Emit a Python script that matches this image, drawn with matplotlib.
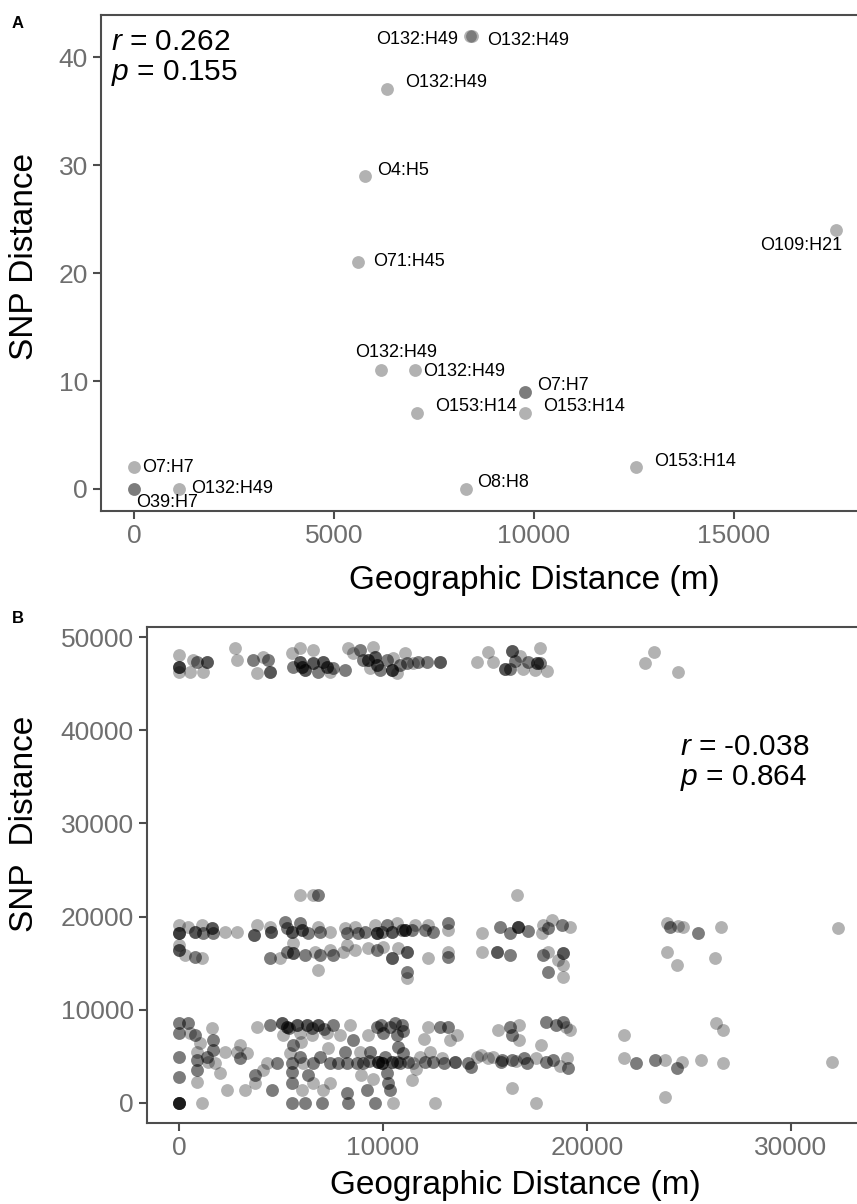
import numpy as np
import matplotlib
matplotlib.use('Agg')
import matplotlib.pyplot as plt

plt.rcParams['font.family'] = ['Liberation Sans', 'DejaVu Sans']
plt.rcParams['mathtext.fontset'] = 'custom'
plt.rcParams['mathtext.it'] = 'Liberation Sans:italic'
plt.rcParams['mathtext.rm'] = 'Liberation Sans'

# ---------------- Panel A data ----------------
a_geo = [8400, 8450, 6325, 5775, 5600, 17550, 6175, 7025, 9775, 9775,
         7075, 9775, 12550, 8300, 0, 0, 0, 1125]
a_snp = [42, 42, 37, 29, 21, 24, 11, 11, 9, 9,
         7, 7, 2, 0, 2, 0, 0, 0]
a_lab = ["O132:H49", "O132:H49", "O132:H49", "O4:H5", "O71:H45", "O109:H21",
         "O132:H49", "O132:H49", "O7:H7", "",
         "O153:H14", "O153:H14", "O153:H14", "O8:H8", "O7:H7", "O39:H7", "", "O132:H49"]
a_r_text = "0.262"
a_p_text = "0.155"

# label placement (pixel offsets, alignment) -- styling only
a_off = [(-12, -4, 'right'), (15, -5, 'left'), (18, 7, 'left'), (12, 5, 'left'),
         (15, 1, 'left'), (6, -16, 'right'), (-26, 18, 'left'), (8, -1, 'left'),
         (12, 6, 'left'), (0, 0, 'left'), (18, 7, 'left'), (18, 7, 'left'),
         (18, 6, 'left'), (11, 6, 'left'), (8, 0, 'left'), (2, -14, 'left'),
         (0, 0, 'left'), (12, 0, 'left')]

# ---------------- Panel B data (geo, snp, number of overlapping points) ----------------
b_top = [
    (0, 48070, 1), (0, 46820, 4), (0, 46280, 1), (540, 46280, 1), (700, 47530, 1), (870, 47350, 2),
    (1190, 46280, 1), (1360, 47350, 3), (2750, 48780, 1), (2830, 47530, 1), (3640, 47530, 2),
    (3810, 46100, 1), (4130, 47890, 1), (4380, 47530, 2), (4460, 46280, 3), (5520, 48250, 1),
    (5600, 46820, 2), (5930, 48780, 1), (5930, 47350, 3), (6010, 46820, 3), (6180, 46460, 3),
    (6590, 48600, 1), (6590, 47180, 3), (6830, 46280, 2), (7080, 47350, 3), (7240, 46820, 3),
    (7400, 46280, 1), (7570, 46640, 2), (8140, 46460, 2), (8300, 48780, 1), (8550, 48250, 1),
    (8870, 48600, 2), (9040, 47530, 2), (9280, 47530, 3), (9360, 46640, 1), (9530, 48960, 1),
    (9610, 47890, 3), (9690, 47000, 3), (9850, 46460, 2), (10180, 47530, 2), (10430, 46460, 4),
    (10510, 47710, 1), (10670, 46100, 1), (10830, 47000, 2), (11080, 48250, 1), (11160, 47180, 2),
    (11490, 47180, 1), (11730, 47350, 2), (12140, 47350, 2), (12790, 47350, 3), (14590, 47350, 1),
    (15160, 48420, 1), (15410, 47350, 1), (15980, 46530, 3), (16230, 46530, 2), (16310, 48530, 3),
    (16470, 47460, 2), (16720, 47960, 1), (16880, 46530, 1), (17120, 47350, 2), (17450, 46460, 1),
    (17530, 47180, 3), (17700, 48780, 1), (17700, 47180, 2), (18020, 46390, 1), (22840, 47250, 1),
    (23280, 48380, 1), (24480, 46210, 1)]

b_mid_upper = [
    (0, 19100, 1), (0, 18200, 4), (458, 18920, 1), (784, 18380, 3), (1111, 19100, 1), (1193, 18200, 2),
    (1601, 18740, 3), (1683, 18200, 2), (2255, 18380, 1), (2827, 18380, 1), (3676, 18030, 3),
    (3807, 19100, 1), (4461, 18920, 1), (4493, 18380, 3), (5196, 19460, 2), (5278, 18740, 2),
    (5523, 18380, 3), (5931, 19280, 2), (6013, 18560, 3), (6340, 18200, 2), (6830, 18920, 1),
    (6912, 18380, 2), (7402, 18380, 1), (8137, 18740, 1), (8219, 18200, 2), (8627, 18920, 1),
    (8791, 18200, 2), (9118, 18380, 2), (9608, 19100, 1), (9690, 18200, 4), (9935, 18380, 2),
    (10180, 19100, 2), (10425, 18380, 3), (10670, 19280, 1), (10915, 18560, 2), (11078, 18560, 4),
    (11405, 18560, 2), (11569, 19100, 1), (12059, 18560, 2), (12222, 19100, 1), (12467, 18380, 2),
    (13203, 19280, 2), (13203, 18560, 1), (14837, 18200, 1), (15735, 18920, 2), (16225, 18270, 2),
    (16634, 18850, 4), (17124, 18450, 2), (17778, 18200, 1), (17860, 19090, 1), (18105, 18740, 2),
    (18270, 19630, 1), (18760, 19090, 2), (19167, 18920, 1), (23905, 19270, 1), (24069, 18920, 2),
    (24477, 18990, 1), (24722, 18850, 1), (25458, 18200, 2), (26552, 18920, 1), (32288, 18810, 1)]

b_mid_lower = [
    (0, 16950, 1), (0, 16420, 3), (294, 15880, 1), (784, 15700, 2), (1111, 15520, 1), (4461, 15520, 2),
    (4951, 15520, 1), (5278, 16240, 2), (5605, 17130, 1), (5605, 16060, 3), (6176, 15880, 2),
    (6667, 16240, 1), (6830, 14270, 1), (6912, 15880, 2), (7402, 16420, 1), (7565, 15880, 2),
    (8056, 16240, 1), (8219, 16950, 1), (8627, 16420, 1), (9281, 16600, 1), (9690, 16420, 2),
    (10016, 16770, 1), (10425, 15520, 3), (10752, 16600, 1), (11160, 16240, 3), (11160, 14090, 2),
    (11160, 13380, 1), (12222, 15520, 1), (13203, 16240, 1), (13203, 15700, 2), (14837, 16230, 1),
    (15572, 16230, 3), (16225, 15880, 2), (17860, 15880, 2), (18105, 16230, 1), (18105, 14080, 2),
    (18595, 15340, 1), (18840, 16050, 3), (18840, 14800, 1), (18840, 13560, 1), (23905, 16230, 1),
    (24395, 14800, 1), (26275, 15520, 1),
    (5931, 22320, 1), (6585, 22320, 1), (6830, 22320, 2), (16552, 22320, 1)]

b_low = [
    (0, 8550, 2), (0, 7475, 2), (0, 4970, 2), (0, 2830, 2), (0, 0, 6),
    (458, 8550, 2), (539, 7475, 1), (784, 7300, 2), (866, 5510, 1), (866, 4610, 2), (866, 3540, 2),
    (866, 2290, 1), (1111, 0, 1), (1029, 6400, 1), (1356, 4970, 2), (1438, 4435, 1), (1601, 8010, 1),
    (1683, 6760, 2), (1683, 5690, 2), (1765, 4260, 1), (2255, 5510, 1), (2337, 1395, 1), (2827, 5510, 1),
    (2990, 4790, 2), (3235, 1395, 1), (3317, 5330, 1), (3725, 3000, 2), (3725, 2110, 1), (3807, 8190, 1),
    (4297, 4260, 1), (4461, 8370, 2), (4542, 1395, 2), (4788, 4260, 2), (5033, 8550, 3), (5114, 7300, 1),
    (5278, 8190, 3), (5441, 5330, 1), (5523, 4260, 2), (5523, 3360, 2), (5523, 2110, 2), (5523, 0, 2),
    (5605, 6220, 2), (5768, 8370, 3), (5931, 7475, 1), (5931, 4970, 2), (6013, 1395, 1), (6095, 4260, 1),
    (6176, 0, 2), (6258, 8370, 3), (6340, 3000, 2), (6503, 7300, 1), (6585, 4260, 2), (6585, 2110, 1),
    (6830, 8370, 3), (6912, 4970, 2), (6993, 0, 2), (7075, 1395, 1), (7239, 7475, 1), (7402, 2110, 1),
    (7402, 4260, 2), (7565, 8370, 2), (7810, 4260, 2), (7892, 7300, 1), (8137, 5510, 2), (8219, 4260, 2),
    (8219, 1040, 2), (8301, 0, 2), (8382, 8370, 1), (8546, 6760, 2), (8709, 4260, 2), (8873, 5510, 1),
    (9036, 4260, 2), (9199, 1395, 2), (9281, 7300, 1), (9363, 5510, 2), (9608, 0, 2), (9690, 8190, 2),
    (9771, 4435, 4), (9935, 4260, 4), (10016, 7475, 2), (10098, 4970, 2), (10180, 3180, 2), (10261, 2110, 2),
    (10343, 8190, 2), (10343, 1395, 2), (10425, 4435, 3), (10507, 0, 1), (10670, 7300, 2), (10752, 6040, 2),
    (10833, 4260, 2), (10915, 8370, 2), (10997, 5330, 2), (11242, 4435, 2), (11405, 2470, 1), (11487, 4260, 1),
    (11814, 4970, 1), (12059, 4435, 2), (12222, 8190, 1), (12304, 5510, 1), (12549, 0, 1), (12467, 4435, 2),
    (12794, 8190, 2), (12876, 4790, 1), (13203, 8190, 2), (13284, 6760, 1), (13529, 4435, 3), (13611, 7300, 1),
    (14183, 4260, 2), (14310, 3900, 2), (14592, 4970, 1), (14790, 5150, 1), (15380, 4970, 1),
    (15140, 4790, 1), (15620, 7835, 1), (15850, 4610, 2), (16210, 8190, 2), (16330, 7300, 2), (16330, 4610, 2),
    (16330, 1580, 1), (16690, 8370, 1), (16690, 6760, 1), (16920, 4790, 2), (17040, 4255, 2), (17520, 0, 1),
    (17520, 4790, 1), (17760, 6220, 1), (17990, 8730, 2), (18350, 4610, 2), (18470, 8370, 2), (18830, 8730, 2),
    (18950, 8190, 1), (19060, 3720, 2), (19180, 7835, 1), (21800, 7300, 1), (21800, 4790, 1), (22390, 4255, 2),
    (23340, 4610, 2), (23820, 4610, 1), (23820, 680, 1), (24410, 3720, 2), (24650, 4435, 1), (25600, 4610, 1),
    (26310, 8550, 1), (26670, 7835, 1), (26670, 4255, 1), (32020, 4435, 1),
    (5400, 8000, 2), (6500, 8100, 2), (7100, 7900, 2), (9900, 8400, 2), (10600, 8600, 2), (11000, 7700, 2),
    (6000, 6500, 1), (7300, 5900, 1), (8900, 3000, 1), (9500, 2600, 1), (4100, 3500, 1), (2000, 3200, 1),
    (3000, 6200, 1), (12000, 6900, 1), (11600, 3600, 1), (10700, 4400, 2), (9300, 4500, 2), (13000, 4300, 2),
    (15800, 4400, 2), (16500, 4500, 1), (18000, 4400, 2), (18700, 4000, 1), (19000, 4800, 1)]

b_r_text = "-0.038"
b_p_text = "0.864"

# ---------------- Figure ----------------
W, H = 857, 1204
fig = plt.figure(figsize=(W / 100, H / 100), dpi=100)


def rect(l, t, r, b):
    return [l / W, 1 - b / H, (r - l) / W, (b - t) / H]


axA = fig.add_axes(rect(101, 15, 871, 511))
axB = fig.add_axes(rect(147, 627, 869, 1123))

spine_col = '#4d4d4d'
tick_col = '#6e6e6e'
for ax in (axA, axB):
    for sp in ax.spines.values():
        sp.set_color(spine_col)
        sp.set_linewidth(1.5)
    ax.tick_params(axis='both', which='major', length=6, width=1.5, color=spine_col,
                   labelcolor=tick_col, labelsize=19, pad=3.5)

PT = 0.72  # px -> pt
MS = 85

# Panel A
axA.scatter(a_geo, a_snp, s=MS, c='black', alpha=0.3, linewidths=0, zorder=2)
for x, y, lab, (dx, dy, ha) in zip(a_geo, a_snp, a_lab, a_off):
    if lab:
        axA.annotate(lab, (x, y), xytext=(dx * PT, dy * PT), textcoords='offset points',
                     ha=ha, va='center', fontsize=13, color='black', zorder=3)
axA.set_xlim(-825, 18425)
axA.set_ylim(-2.04, 43.9)
axA.set_xticks([0, 5000, 10000, 15000])
axA.set_yticks([0, 10, 20, 30, 40])
axA.set_xlabel('Geographic Distance (m)', fontsize=24)
axA.set_ylabel('SNP Distance', fontsize=24)
axA.xaxis.set_label_coords((534 - 101) / 770, (511 - 565) / 496)
axA.yaxis.set_label_coords((40 - 101) / 770, (511 - 257) / 496)

# Panel B
bx, by, bn = [], [], []
for grp in (b_top, b_mid_upper, b_mid_lower, b_low):
    for x, y, n in grp:
        bx.append(x); by.append(y); bn.append(n)
bx = np.repeat(np.array(bx, float), bn)
by = np.repeat(np.array(by, float), bn)
axB.scatter(bx, by, s=MS, c='black', alpha=0.3, linewidths=0, zorder=2)
axB.set_xlim(-1569, 33824)
axB.set_ylim(-2146, 51073)
axB.set_xticks([0, 10000, 20000, 30000])
axB.set_yticks([0, 10000, 20000, 30000, 40000, 50000])
axB.set_xlabel('Geographic Distance (m)', fontsize=24)
axB.set_ylabel('SNP  Distance', fontsize=24)
axB.xaxis.set_label_coords((515 - 147) / 722, (1123 - 1170) / 496)
axB.yaxis.set_label_coords((40 - 147) / 722, (1123 - 824) / 496)

# annotations
fig.text(111 / W, 1 - 50 / H, r'$r$ = ' + a_r_text, fontsize=21.5, va='baseline', ha='left')
fig.text(111 / W, 1 - 80 / H, r'$p$ = ' + a_p_text, fontsize=21.5, va='baseline', ha='left')
fig.text(680 / W, 1 - 755 / H, r'$r$ = ' + b_r_text, fontsize=21.5, va='baseline', ha='left')
fig.text(680 / W, 1 - 785 / H, r'$p$ = ' + b_p_text, fontsize=21.5, va='baseline', ha='left')

fig.text(12 / W, 1 - 28 / H, 'A', fontsize=12, fontweight='bold', va='baseline', ha='left')
fig.text(12 / W, 1 - 623 / H, 'B', fontsize=12, fontweight='bold', va='baseline', ha='left')

fig.savefig('out.png', dpi=100)
